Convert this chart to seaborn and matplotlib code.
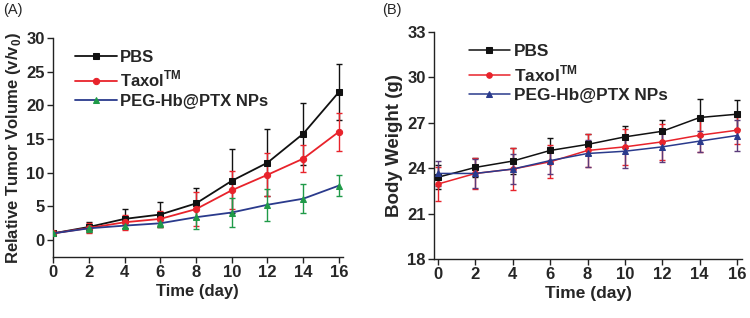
import numpy as np
import pandas as pd
import matplotlib
matplotlib.use("Agg")
import matplotlib.pyplot as plt
import seaborn as sns

days = [0, 2, 4, 6, 8, 10, 12, 14, 16]
series_names = ["PBS", r"Taxol$^{\mathbf{TM}}$", "PEG-Hb@PTX NPs"]

# Panel A: relative tumor volume
tv_pbs = [1.0, 1.95, 3.15, 3.8, 5.45, 8.8, 11.5, 15.8, 22.0]
tv_pbs_err = [0.0, 0.8, 1.4, 1.9, 2.3, 4.8, 5.0, 4.6, 4.1]
tv_tax = [1.0, 1.8, 2.65, 3.15, 4.6, 7.4, 9.7, 12.1, 16.1]
tv_tax_err = [0.0, 0.7, 1.1, 1.2, 2.5, 2.85, 3.2, 2.0, 2.85]
tv_peg = [1.0, 1.75, 2.15, 2.5, 3.4, 4.1, 5.25, 6.15, 8.1]
tv_peg_err = [0.0, 0.5, 0.4, 0.5, 1.75, 2.15, 2.35, 2.15, 1.6]

# Panel B: body weight
bw_pbs = [23.4, 24.05, 24.47, 25.17, 25.57, 26.07, 26.44, 27.35, 27.57]
bw_pbs_err = [0.8, 0.63, 0.87, 0.83, 0.7, 0.75, 0.73, 1.2, 0.97]
bw_tax = [22.95, 23.65, 23.94, 24.42, 25.17, 25.41, 25.74, 26.18, 26.51]
bw_tax_err = [1.15, 1.0, 1.4, 1.1, 1.1, 1.2, 1.2, 1.1, 0.9]
bw_peg = [23.65, 23.65, 23.94, 24.5, 24.97, 25.12, 25.41, 25.79, 26.16]
bw_peg_err = [0.85, 0.95, 1.0, 0.9, 0.9, 1.1, 1.0, 0.7, 1.0]

sns.set_style("ticks")
plt.rcParams["font.family"] = ["Liberation Sans", "DejaVu Sans"]
plt.rcParams["mathtext.fontset"] = "custom"
plt.rcParams["mathtext.bf"] = "Liberation Sans:bold"
plt.rcParams["mathtext.rm"] = "Liberation Sans"

fig = plt.figure(figsize=(7.5, 3.18), dpi=100)
axA = fig.add_axes([0.0707, 0.192, 0.386, 0.688])
axB = fig.add_axes([0.579, 0.186, 0.410, 0.713])

BLACK = "#111111"
RED = "#e8232b"
BLUE = "#2a3a8c"
GREEN = "#1f9a48"
PURPLE = "#5a3a7a"

def draw(ax, vals, errs, line_c, mark_c, err_c, marker, label, ms, lw):
    df = pd.DataFrame({"Day": days, "Value": vals})
    ax.errorbar(days, vals, yerr=errs, fmt="none", ecolor=err_c,
                elinewidth=1.0, capsize=2.5, capthick=1.0, zorder=2)
    sns.lineplot(data=df, x="Day", y="Value", ax=ax, color=line_c,
                 marker=marker, markersize=ms, markerfacecolor=mark_c,
                 markeredgecolor=mark_c, linewidth=lw, label=label,
                 zorder=3)

draw(axA, tv_pbs, tv_pbs_err, BLACK, BLACK, BLACK, "s", series_names[0], 4, 1.3)
draw(axA, tv_tax, tv_tax_err, RED, RED, RED, "o", series_names[1], 4.5, 1.3)
draw(axA, tv_peg, tv_peg_err, BLUE, GREEN, GREEN, "^", series_names[2], 4.5, 1.3)

draw(axB, bw_pbs, bw_pbs_err, BLACK, BLACK, BLACK, "s", series_names[0], 3.8, 1.1)
draw(axB, bw_tax, bw_tax_err, RED, RED, RED, "o", series_names[1], 4, 1.1)
draw(axB, bw_peg, bw_peg_err, BLUE, BLUE, PURPLE, "^", series_names[2], 4, 1.1)

tick_fs = 12

axA.set_xlim(0, 16.2)
axA.set_ylim(-2.5, 30)
axA.set_xticks(days)
axA.set_yticks([0, 5, 10, 15, 20, 25, 30])
axA.set_xlabel("Time (day)", fontsize=12, fontweight="bold", labelpad=3)
axA.set_ylabel("Relative Tumor Volume (v/v$_\\mathbf{0}$)", fontsize=12,
               fontweight="bold", labelpad=2)

axB.set_xlim(-0.2, 16.25)
axB.set_ylim(18, 33)
axB.set_xticks(days)
axB.set_yticks([18, 21, 24, 27, 30, 33])
axB.set_xlabel("Time (day)", fontsize=12.5, fontweight="bold", labelpad=3)
axB.set_ylabel("Body Weight (g)", fontsize=13.5, fontweight="bold", labelpad=3)

for ax in (axA, axB):
    sns.despine(ax=ax)
    for s in ("left", "bottom"):
        ax.spines[s].set_linewidth(1.0)
        ax.spines[s].set_color("#222222")
    ax.tick_params(axis="both", direction="out", length=4, width=1.0,
                   labelsize=tick_fs, pad=2, color="#222222")
    for t in ax.get_xticklabels() + ax.get_yticklabels():
        t.set_fontweight("bold")

legA = axA.legend(loc="upper left", frameon=False, fontsize=12,
                  handlelength=2.5, handletextpad=0.2, labelspacing=0.25,
                  borderaxespad=0.3, bbox_to_anchor=(0.036, 1.0))
legB = axB.legend(loc="upper left", frameon=False, fontsize=12.4,
                  handlelength=2.4, handletextpad=0.2, labelspacing=0.25,
                  borderaxespad=0.3, bbox_to_anchor=(0.073, 1.0))
for leg in (legA, legB):
    for t in leg.get_texts():
        t.set_fontweight("bold")

fig.text(0.004, 0.955, "(A)", fontsize=10.5)
fig.text(0.509, 0.955, "(B)", fontsize=10.5)

fig.savefig("out.png", dpi=100)
